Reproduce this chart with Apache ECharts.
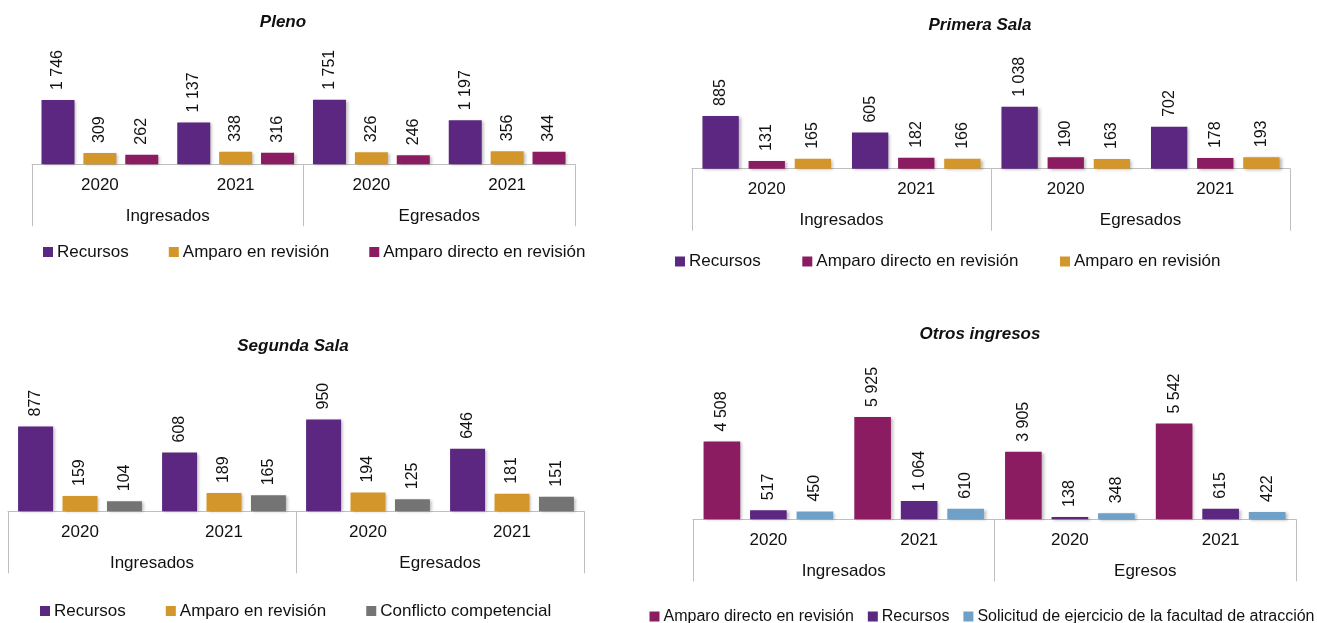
<!DOCTYPE html>
<html>
<head>
<meta charset="utf-8">
<script src="https://cdn.jsdelivr.net/npm/echarts@6/dist/echarts.min.js"></script>
<style>
html,body{margin:0;padding:0;background:#fff;}
#c{width:1317px;height:623px;}
</style>
</head>
<body>
<div id="c"></div>
<script>
// ---- data ----
const years = ['2020', '2021', '2020', '2021'];
const groupsIE = ['Ingresados', 'Egresados'];
const groupsOtros = ['Ingresados', 'Egresos'];

const plenoRecursos = [1746, 1137, 1751, 1197];
const plenoAmparoRev = [309, 338, 326, 356];
const plenoAmparoDir = [262, 316, 246, 344];

const primeraRecursos = [885, 605, 1038, 702];
const primeraAmparoDir = [131, 182, 190, 178];
const primeraAmparoRev = [165, 166, 163, 193];

const segundaRecursos = [877, 608, 950, 646];
const segundaAmparoRev = [159, 189, 194, 181];
const segundaConflicto = [104, 165, 125, 151];

const otrosAmparoDir = [4508, 5925, 3905, 5542];
const otrosRecursos = [517, 1064, 138, 615];
const otrosSolicitud = [450, 610, 348, 422];

// ---- styling ----
const FONT = '"Liberation Sans", Arial, sans-serif';
const C = {
  purple: '#5B2780',
  gold: '#D3962A',
  magenta: '#8C1C62',
  gray: '#747474',
  blue: '#6FA0C8'
};
const fmt = v => String(v).replace(/\B(?=(\d{3})+(?!\d))/g, ' ');

const panels = [
  { title: 'Pleno', tx: 283, ty: 24, grid: { left: 32, width: 543, top: 90.7, height: 73.6 }, max: 2000,
    groups: groupsIE,
    series: [['Recursos', plenoRecursos, C.purple], ['Amparo en revisión', plenoAmparoRev, C.gold], ['Amparo directo en revisión', plenoAmparoDir, C.magenta]],
    legend: { left: 43, cy: 252.5, gap: 40, fs: 17 } },
  { title: 'Primera Sala', tx: 980, ty: 27, grid: { left: 692, width: 598, top: 97.1, height: 71.6 }, max: 1200,
    groups: groupsIE,
    series: [['Recursos', primeraRecursos, C.purple], ['Amparo directo en revisión', primeraAmparoDir, C.magenta], ['Amparo en revisión', primeraAmparoRev, C.gold]],
    legend: { left: 675, cy: 262, gap: 41.5, fs: 17 } },
  { title: 'Segunda Sala', tx: 293, ty: 347.5, grid: { left: 8, width: 576, top: 414.6, height: 96.7 }, max: 1000,
    groups: groupsIE,
    series: [['Recursos', segundaRecursos, C.purple], ['Amparo en revisión', segundaAmparoRev, C.gold], ['Conflicto competencial', segundaConflicto, C.gray]],
    legend: { left: 40, cy: 611.5, gap: 40, fs: 17 } },
  { title: 'Otros ingresos', tx: 980, ty: 335.5, grid: { left: 693, width: 603, top: 398.4, height: 120.9 }, max: 7000,
    groups: groupsOtros,
    series: [['Amparo directo en revisión', otrosAmparoDir, C.magenta], ['Recursos', otrosRecursos, C.purple], ['Solicitud de ejercicio de la facultad de atracción', otrosSolicitud, C.blue]],
    legend: { left: 649.5, cy: 617.5, gap: 14, fs: 16 } }
];

const option = {
  backgroundColor: '#fff',
  animation: false,
  title: [], grid: [], xAxis: [], yAxis: [], legend: [], series: []
};

panels.forEach((p, i) => {
  option.title.push({
    text: p.title, left: p.tx, top: p.ty - 10, textAlign: 'center', padding: 0,
    textStyle: { fontFamily: FONT, fontSize: 17, fontWeight: 'bold', fontStyle: 'italic', color: '#111' }
  });
  option.grid.push(Object.assign({ containLabel: false }, p.grid));
  option.xAxis.push({
    type: 'category', gridIndex: i, data: years, position: 'bottom',
    axisLine: { show: true, lineStyle: { color: '#BFBFBF', width: 1 } },
    axisTick: { show: false },
    axisLabel: { interval: 0, margin: 12.5, fontFamily: FONT, fontSize: 17, color: '#111' },
    splitLine: { show: false }
  });
  option.xAxis.push({
    type: 'category', gridIndex: i, data: p.groups, position: 'bottom',
    axisLine: { show: false },
    axisTick: { show: true, length: 62, lineStyle: { color: '#BFBFBF', width: 1 } },
    axisLabel: { interval: 0, margin: 43.5, fontFamily: FONT, fontSize: 17, color: '#111' },
    splitLine: { show: false }
  });
  option.yAxis.push({
    type: 'value', gridIndex: i, min: 0, max: p.max, show: false, splitLine: { show: false }
  });
  option.legend.push({
    data: p.series.map(s => s[0]), left: p.legend.left, top: p.legend.cy - 9, width: 720,
    padding: 0, itemWidth: 10, itemHeight: 10, itemGap: p.legend.gap, icon: 'rect',
    selectedMode: false,
    textStyle: { fontFamily: FONT, fontSize: p.legend.fs, color: '#111', padding: [0, 0, 0, -1] }
  });
  p.series.forEach(s => {
    option.series.push({
      type: 'bar', name: s[0], data: s[1], xAxisIndex: 2 * i, yAxisIndex: i,
      barCategoryGap: '14%', barGap: '27%',
      itemStyle: { color: s[2], shadowColor: 'rgba(0,0,0,0.28)', shadowBlur: 3, shadowOffsetX: 2, shadowOffsetY: 1 },
      label: {
        show: true, position: 'top', distance: 10, rotate: 90, align: 'left', verticalAlign: 'middle',
        formatter: d => fmt(d.value), fontFamily: FONT, fontSize: 16, color: '#111'
      }
    });
  });
});

const chart = echarts.init(document.getElementById('c'), null, { renderer: 'canvas' });
chart.setOption(option);
</script>
</body>
</html>
